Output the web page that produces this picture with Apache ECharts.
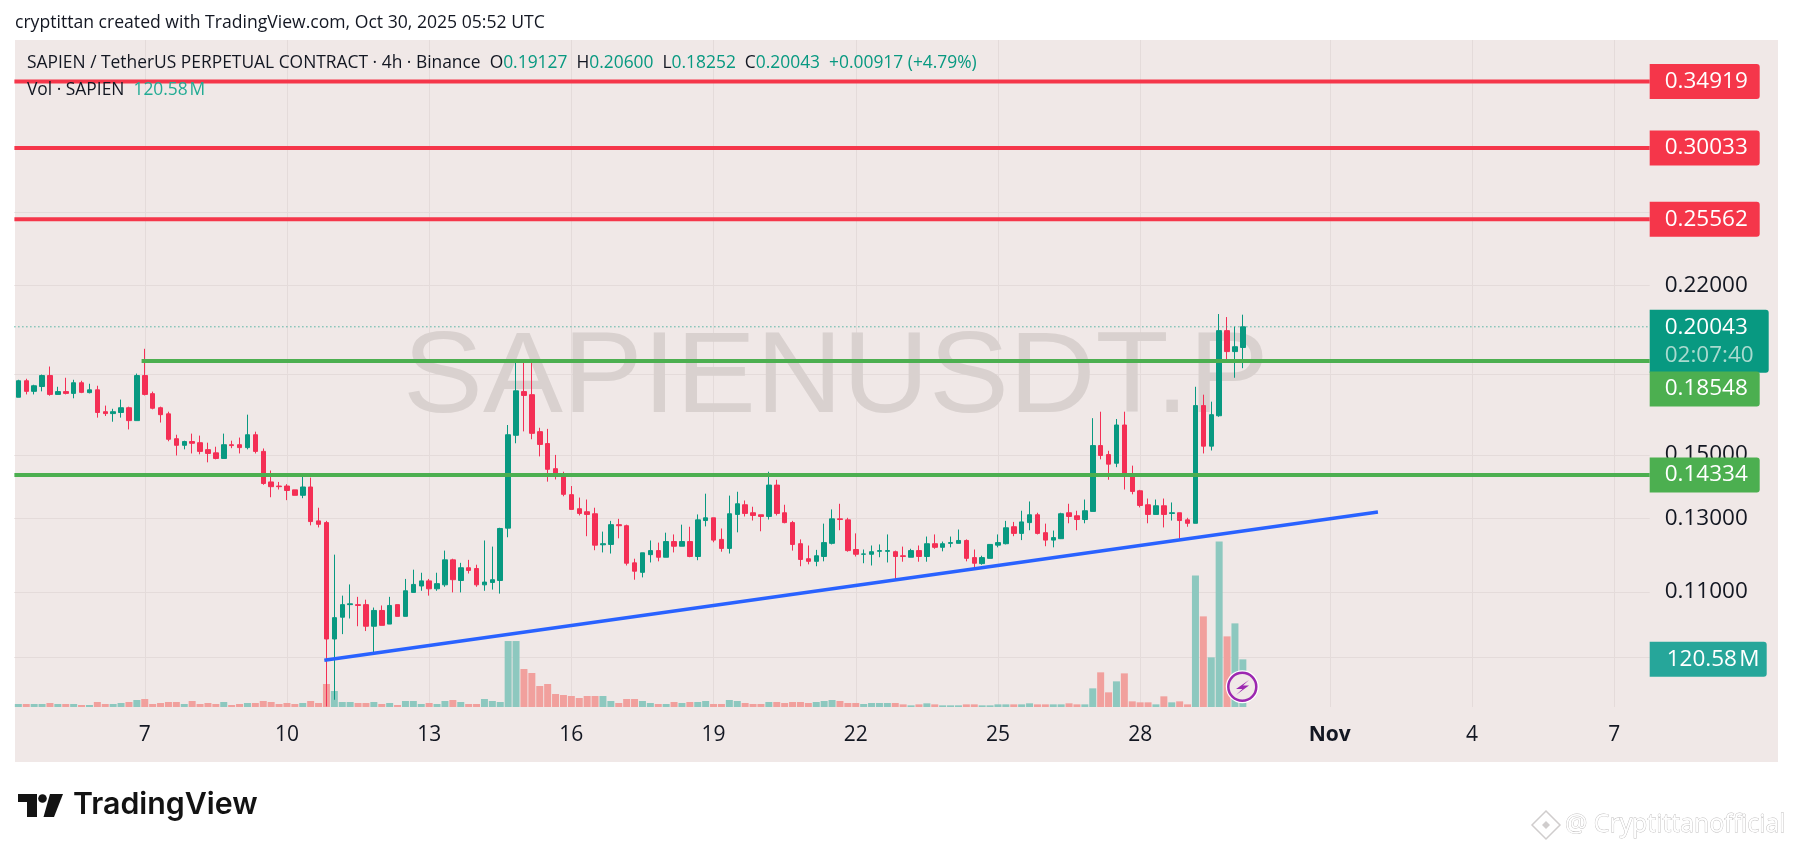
<!DOCTYPE html>
<html><head><meta charset="utf-8">
<style>html,body{margin:0;padding:0;background:#fff}#c{width:1793px;height:851px}</style>
<script src="https://cdn.jsdelivr.net/npm/echarts@6/dist/echarts.min.js"></script>
</head><body><div id="c"></div>
<script>
const highs=[.1778,.1782,.1758,.1799,.1832,.1750,.1786,.1778,.1774,.1762,
.1754,.1677,.1665,.1700,.1673,.1803,.1907,.1731,.1673,.1654,
.1570,.1549,.1574,.1567,.1542,.1528,.1574,.1549,.1560,.1643,
.1581,.1522,.1448,.1411,.1404,.1386,.1429,.1425,.1331,.1292,
.1197,.1091,.1119,.1088,.1081,.1062,.1067,.1088,.1069,.1133,
.1157,.1149,.1133,.1149,.1208,.1186,.1175,.1183,.1170,.1236,
.1219,.1272,.1605,.1863,.1858,.1852,.1595,.1591,.1500,.1444,
.1398,.1362,.1356,.1331,.1261,.1292,.1298,.1281,.1186,.1202,
.1236,.1230,.1258,.1253,.1281,.1275,.1311,.1374,.1301,.1270,
.1368,.1380,.1353,.1334,.1310,.1444,.1418,.1340,.1292,.1239,
.1222,.1210,.1284,.1326,.1343,.1301,.1256,.1211,.1222,.1225,
.1253,.1208,.1219,.1213,.1222,.1247,.1253,.1233,.1247,.1267,
.1239,.1211,.1194,.1225,.1253,.1292,.1289,.1322,.1350,.1316,
.1284,.1264,.1316,.1343,.1322,.1356,.1630,.1654,.1514,.1627,
.1654,.1464,.1386,.1359,.1356,.1359,.1347,.1316,.1301,.1750,
.1719,.1692,.2063,.2049,.2005,.20600];
const lows=[.1709,.1720,.1720,.1732,.1715,.1720,.1720,.1705,.1725,.1724,
.1632,.1638,.1617,.1632,.1589,.1621,.1716,.1663,.1614,.1547,
.1498,.1519,.1505,.1502,.1475,.1485,.1488,.1523,.1505,.1519,
.1505,.1402,.1363,.1387,.1354,.1369,.1360,.1279,.1273,.0849,
.0862,.1000,.1036,.1018,.1007,.0955,.1020,.1023,.1041,.1041,
.1099,.1103,.1091,.1103,.1113,.1099,.1099,.1147,.1113,.1103,
.1106,.1096,.1245,.1540,.1582,.1554,.1495,.1412,.1419,.1366,
.1326,.1308,.1248,.1209,.1203,.1200,.1242,.1168,.1131,.1137,
.1176,.1179,.1190,.1203,.1220,.1190,.1182,.1276,.1231,.1205,
.1200,.1259,.1305,.1293,.1262,.1296,.1308,.1285,.1208,.1166,
.1171,.1166,.1179,.1225,.1265,.1205,.1192,.1174,.1168,.1190,
.1176,.1129,.1178,.1190,.1178,.1178,.1213,.1206,.1217,.1228,
.1179,.1163,.1170,.1187,.1217,.1225,.1248,.1237,.1265,.1253,
.1220,.1217,.1240,.1285,.1265,.1285,.1320,.1485,.1418,.1459,
.1387,.1372,.1332,.1285,.1311,.1273,.1293,.1241,.1275,.1285,
.1505,.1515,.1635,.1852,.1786,.18252];
const opens=[.1709,.1774,.1732,.1751,.1795,.1720,.1731,.1724,.1766,.1727,
.1738,.1654,.1647,.1651,.1669,.1621,.1795,.1723,.1669,.1646,
.1556,.1533,.1546,.1542,.1518,.1507,.1488,.1535,.1535,.1525,
.1570,.1512,.1411,.1398,.1398,.1386,.1369,.1395,.1292,.1287,
.0989,.1039,.1069,.1069,.1069,.1018,.1055,.1023,.1069,.1041,
.1099,.1115,.1128,.1108,.1118,.1183,.1129,.1162,.1160,.1118,
.1124,.1129,.1271,.1568,.1731,.1719,.1581,.1539,.1454,.1434,
.1371,.1328,.1319,.1313,.1224,.1225,.1281,.1278,.1175,.1150,
.1197,.1208,.1190,.1233,.1220,.1233,.1192,.1293,.1301,.1239,
.1214,.1311,.1340,.1316,.1310,.1305,.1401,.1316,.1287,.1227,
.1186,.1179,.1192,.1228,.1298,.1295,.1211,.1198,.1198,.1206,
.1206,.1205,.1194,.1190,.1208,.1192,.1227,.1217,.1228,.1228,
.1236,.1189,.1173,.1187,.1223,.1227,.1275,.1256,.1287,.1310,
.1258,.1237,.1241,.1316,.1307,.1296,.1320,.1532,.1501,.1472,
.1605,.1434,.1383,.1340,.1311,.1337,.1314,.1316,.1295,.1285,
.1677,.1530,.1639,.1987,.1895,.19127];
const closes=[.1774,.1732,.1754,.1795,.1720,.1731,.1724,.1766,.1728,.1738,
.1651,.1647,.1654,.1669,.1621,.1795,.1720,.1667,.1643,.1554,
.1533,.1546,.1540,.1512,.1505,.1488,.1535,.1532,.1525,.1570,
.1512,.1406,.1396,.1396,.1384,.1369,.1395,.1290,.1282,.0989,
.1038,.1069,.1071,.1067,.1018,.1055,.1020,.1067,.1041,.1103,
.1119,.1128,.1108,.1121,.1183,.1131,.1162,.1155,.1118,.1125,
.1131,.1270,.1570,.1734,.1716,.1575,.1536,.1452,.1432,.1372,
.1326,.1314,.1311,.1223,.1227,.1281,.1278,.1174,.1153,.1202,
.1208,.1190,.1233,.1220,.1233,.1192,.1295,.1301,.1237,.1214,
.1313,.1343,.1314,.1308,.1305,.1401,.1314,.1287,.1225,.1184,
.1179,.1194,.1230,.1298,.1296,.1208,.1198,.1199,.1205,.1208,
.1208,.1192,.1192,.1208,.1192,.1227,.1217,.1227,.1230,.1236,
.1187,.1174,.1189,.1225,.1230,.1272,.1256,.1289,.1310,.1256,
.1237,.1244,.1313,.1305,.1296,.1322,.1532,.1498,.1469,.1605,
.1432,.1381,.1338,.1311,.1337,.1311,.1316,.1293,.1285,.1677,
.1530,.1643,.1987,.1895,.1916,.20043];
const volumesM=[7.6,7.6,7.6,7.6,10.1,7.6,7.6,7.6,5.1,5.1,
12.6,7.6,7.6,10.1,12.6,17.7,20.2,7.6,10.1,12.6,
12.6,7.6,15.2,7.6,10.1,7.6,12.6,5.1,7.6,10.1,
10.1,15.2,12.6,7.6,10.1,7.6,10.1,15.2,10.1,58.2,
40.5,12.6,12.6,10.1,10.1,12.6,7.6,10.1,5.1,15.2,
15.2,7.6,10.1,7.6,15.2,17.7,12.6,7.6,7.6,20.2,
15.2,12.6,166.9,166.9,96.1,86,53.1,58.2,32.9,30.3,
27.8,22.8,27.8,27.8,27.8,15.2,10.1,20.2,20.2,15.2,
10.1,7.6,7.6,12.6,10.1,12.6,12.6,15.2,7.6,7.6,
17.7,15.2,10.1,7.6,7.6,12.6,12.6,10.1,12.6,12.6,
10.1,12.6,15.2,17.7,15.2,10.1,10.1,7.6,10.1,10.1,
10.1,10.1,6.7,4.2,6.7,9.3,6.7,4.2,4.2,4.2,
6.7,6.7,4.2,4.2,6.7,6.7,6.7,6.7,9.3,6.7,
6.7,6.7,6.7,9.3,6.7,6.7,47.2,87.7,37.1,64.9,
85.1,14.3,11.8,11.8,6.7,27,11.8,14.3,6.7,333,
229.3,125.6,419,178.7,211.6,120.58];
const slotCount=207;
const dayTickIndex=[16,34,52,70,88,106,124,142,166,184,202];
const dayTickLabels=['7','10','13','16','19','22','25','28','Nov','4','7'];
const priceGrid=[.26,.22,.18,.15,.13,.11,.095];
const priceLabels=[.22,.15,.13,.11];
const redLevels=[.34919,.30033,.25562];
const greenLevels=[.18548,.14334];
const lastPrice=.20043;
const lastVolume=120.58;
const countdown='02:07:40';
const greenLevelStartSlot=16.1;
const trendSlots=[39.23,172.6];
const trendPrices=[.09425,.1318];

const F='"Open Sans",sans-serif';
const BG='#F0E8E7',GRID='#E4DBDA',UP='#089981',DOWN='#F42F55',INK='#131722';
const gridLeft=14.4,bandW=7.9,gridTop=40,gridBottom=707;
const gridW=slotCount*bandW;
const cats=Array.from({length:slotCount},(_,i)=>String(i));
const tickMap=new Map(dayTickIndex.map((k,i)=>[k,dayTickLabels[i]]));
const isTick=i=>tickMap.has(i);
const candle=opens.map((o,i)=>[o,closes[i],lows[i],highs[i]]);

function tagLabel(txt,bg,off){
  return {show:true,formatter:txt,position:'right',distance:0,offset:off||[0,0],color:'#fff',
    backgroundColor:bg,borderRadius:[0,3,3,0],fontFamily:F,fontSize:22.5,lineHeight:27,
    padding:[5,0,3,15],width:95,align:'left',overflow:'none'};
}
function levelSeries(name,x0,v,color,label){
  return {name,type:'line',xAxisIndex:1,yAxisIndex:0,data:[[x0,v],[slotCount,v]],symbol:'none',clip:false,z:5,silent:true,
    lineStyle:{color,width:4,cap:'butt'},endLabel:label,animation:false};
}
const series=[
 {type:'candlestick',xAxisIndex:0,yAxisIndex:0,data:candle,barWidth:5,z:3,
  itemStyle:{color:UP,color0:DOWN,borderColor:UP,borderColor0:DOWN,borderWidth:1}},
 {type:'bar',xAxisIndex:2,yAxisIndex:1,barWidth:7,z:2,
  data:volumesM.map((v,i)=>({value:v,itemStyle:{color:closes[i]>=opens[i]?'#8DC8BF':'#F1A09D'}}))},
 {type:'line',xAxisIndex:3,yAxisIndex:1,data:[[0,lastVolume],[slotCount,lastVolume]],symbol:'none',clip:false,z:5,silent:true,
  lineStyle:{opacity:0,width:0},
  endLabel:Object.assign(tagLabel('120.58\u200aM','#26A69A'),{width:100,padding:[5,0,3,17]})},
 {type:'line',xAxisIndex:1,yAxisIndex:0,data:[[0,lastPrice],[slotCount,lastPrice]],symbol:'none',clip:false,z:4,silent:true,
  lineStyle:{color:UP,width:1,type:[1,3]},
  endLabel:{show:true,position:'right',distance:0,offset:[0,14.5],backgroundColor:UP,borderRadius:[0,3,3,0],
   padding:[4,0,3,15],width:104,align:'left',overflow:'none',fontFamily:F,fontSize:22.5,lineHeight:28,color:'#fff',
   formatter:()=>'{a|'+lastPrice.toFixed(5)+'}\n{b|'+countdown+'}',
   rich:{a:{color:'#fff',fontFamily:F,fontSize:22.5,lineHeight:28},b:{color:'#A9DACF',fontFamily:F,fontSize:22.5,lineHeight:28}}}},
 ...redLevels.map(v=>levelSeries('r'+v,0,v,'#F5364A',tagLabel(v.toFixed(5),'#F5364A'))),
 levelSeries('g1',greenLevelStartSlot,greenLevels[0],'#4CAF50',tagLabel(greenLevels[0].toFixed(5),'#4CAF50',[0,28])),
 levelSeries('g2',0,greenLevels[1],'#4CAF50',tagLabel(greenLevels[1].toFixed(5),'#4CAF50')),
 {type:'line',xAxisIndex:1,yAxisIndex:0,data:trendSlots.map((x,i)=>[x,trendPrices[i]]),symbol:'none',z:6,silent:true,
  lineStyle:{color:'#2962FF',width:3.5,cap:'butt'}}
];
const gfx=[
 {type:'rect',z:-100,shape:{x:15,y:40,width:1763,height:722},style:{fill:BG}},
 {type:'text',z:1,silent:true,x:403,y:380,scaleX:1.042,scaleY:1,style:{text:'SAPIENUSDT.P',fontFamily:'"Liberation Sans",Arial,sans-serif',fontSize:115,fill:'#D9D1CF',verticalAlign:'middle'}},
 {type:'text',z:50,x:15,y:23,style:{text:'cryptittan created with TradingView.com, Oct 30, 2025 05:52 UTC',fontFamily:F,fontSize:17.6,fill:INK,verticalAlign:'middle'}},
 {type:'text',z:50,x:27,y:63,style:{text:'{k|SAPIEN / TetherUS PERPETUAL CONTRACT · 4h · Binance}{k|  O}{v|0.19127}{k|  H}{v|0.20600}{k|  L}{v|0.18252}{k|  C}{v|0.20043}{v|  +0.00917 (+4.79%)}',
   verticalAlign:'middle',rich:{k:{fill:INK,fontFamily:F,fontSize:17.4},v:{fill:UP,fontFamily:F,fontSize:17.4}}}},
 {type:'text',z:50,x:27,y:90,style:{text:'{k|Vol · SAPIEN}{v|  120.58\u200aM}',verticalAlign:'middle',rich:{k:{fill:INK,fontFamily:F,fontSize:17.4},v:{fill:'#22AB94',fontFamily:F,fontSize:17.4}}}},
 {type:'circle',z:30,shape:{cx:1242.3,cy:686.7,r:16.5},style:{fill:'#fff'}},
 {type:'circle',z:31,shape:{cx:1242.3,cy:686.7,r:14},style:{fill:BG,stroke:'#9C27B0',lineWidth:2.5}},
 {type:'polygon',z:32,shape:{points:[[1249,680],[1236,689],[1242.5,689],[1236,695],[1249,685.5],[1243,685.5]]},style:{fill:'#9C27B0'}},
 {type:'polygon',z:30,shape:{points:[[18,794],[37,794],[37,817],[27,817],[27,802],[18,802]]},style:{fill:'#131313'}},
 {type:'circle',z:30,shape:{cx:42.5,cy:798.5,r:4.3},style:{fill:'#131313'}},
 {type:'polygon',z:30,shape:{points:[[50,794],[63,794],[54,817],[43.5,817]]},style:{fill:'#131313'}},
 {type:'text',z:30,x:73,y:805,style:{text:'TradingView',fontFamily:'Inter,sans-serif',fontWeight:600,fontSize:30.3,fill:'#131313',verticalAlign:'middle'}},
 {type:'polygon',z:30,shape:{points:[[1546,811],[1560,825],[1546,839],[1532,825]]},style:{fill:'#fff',stroke:'#D0CDCD',lineWidth:1.5}},
 {type:'polygon',z:30,shape:{points:[[1546,821],[1550,825],[1546,829],[1542,825]]},style:{fill:'#D0CDCD'}},
 {type:'text',z:30,x:1565,y:825,style:{text:'@ Cryptittanofficial',fontFamily:F,fontSize:24.9,fill:'#fff',stroke:'#BDBBBB',lineWidth:.8,verticalAlign:'middle'}}
];
const option={
 animation:false,backgroundColor:'#fff',
 grid:[{left:gridLeft,top:gridTop,width:gridW,height:gridBottom-gridTop},{left:gridLeft,top:gridBottom-166,width:gridW,height:166}],
 xAxis:[
  {type:'category',gridIndex:0,data:cats,boundaryGap:true,
   axisLine:{show:false},axisTick:{show:false},
   axisLabel:{interval:(i)=>isTick(i),margin:18,color:INK,fontFamily:F,fontSize:21,
     formatter:(v)=>{const t=tickMap.get(+v);return t==='Nov'?'{b|Nov}':(t||'');},rich:{b:{fontWeight:700,fontFamily:F,fontSize:21,color:INK}}},
   splitLine:{show:true,alignWithLabel:true,interval:(i)=>isTick(i),lineStyle:{color:GRID,width:1}}},
  {type:'value',gridIndex:0,min:0,max:slotCount,show:false},
  {type:'category',gridIndex:1,data:cats,show:false},
  {type:'value',gridIndex:1,min:0,max:slotCount,show:false}
 ],
 yAxis:[
  {type:'log',gridIndex:0,logBase:10,min:.0848,max:.3835,position:'right',
   axisLine:{show:false},
   axisTick:{show:false,customValues:priceGrid},
   axisLabel:{customValues:priceLabels,margin:15,padding:[2,0,0,0],color:INK,fontFamily:F,fontSize:22.5,formatter:v=>(+v).toFixed(5)},
   splitLine:{show:true,lineStyle:{color:GRID,width:1}},minorSplitLine:{show:false}},
  {type:'value',gridIndex:1,min:0,max:420,show:false,splitLine:{show:false}}
 ],
 series,graphic:{elements:gfx}
};
const chart=echarts.init(document.getElementById('c'),null,{renderer:'canvas'});
chart.setOption(option);
</script></body></html>
